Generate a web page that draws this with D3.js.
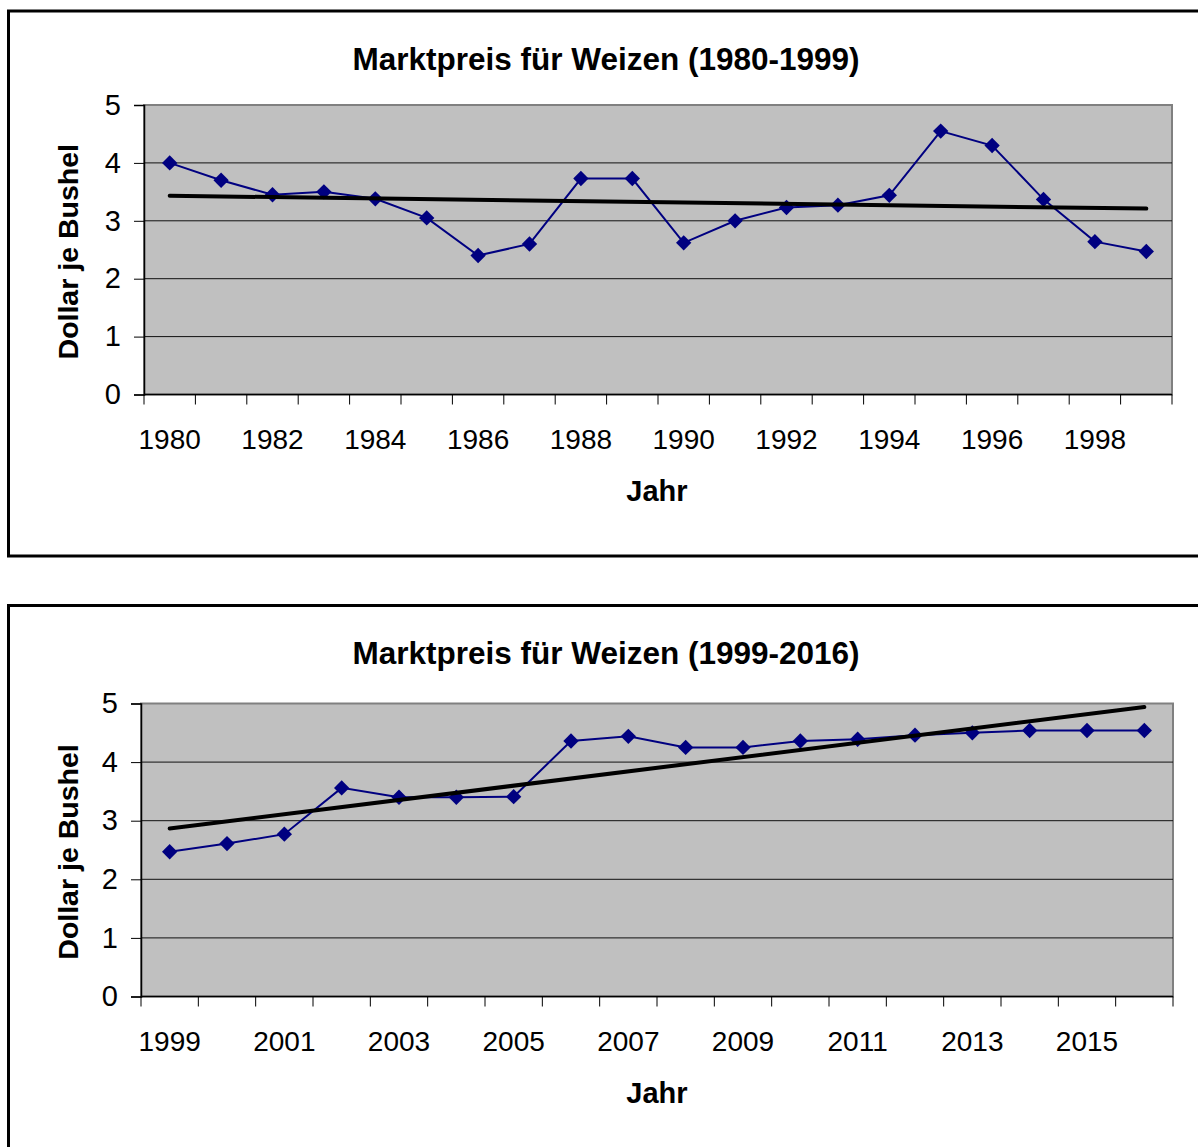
<!DOCTYPE html>
<html>
<head>
<meta charset="utf-8">
<script src="https://cdn.jsdelivr.net/npm/d3@7"></script>
<style>
  body { margin: 0; background: #fff; }
  svg { display: block; font-family: "Liberation Sans", Arial, sans-serif; }
</style>
</head>
<body>
<div class="chart"></div>
<script>
// data
var years1 = ["1980","1981","1982","1983","1984","1985","1986","1987","1988","1989",
              "1990","1991","1992","1993","1994","1995","1996","1997","1998","1999"];
var prices1 = [4.0, 3.7, 3.45, 3.5, 3.38, 3.05, 2.4, 2.6, 3.73, 3.73,
               2.62, 3.0, 3.23, 3.27, 3.44, 4.55, 4.30, 3.37, 2.64, 2.47];

var years2 = ["1999","2000","2001","2002","2003","2004","2005","2006","2007",
              "2008","2009","2010","2011","2012","2013","2014","2015","2016"];
var prices2 = [2.47, 2.61, 2.77, 3.56, 3.40, 3.40, 3.41, 4.36, 4.44,
               4.25, 4.25, 4.36, 4.39, 4.46, 4.50, 4.54, 4.54, 4.54];

var yTicks = [0, 1, 2, 3, 4, 5];

var svg = d3.select(".chart").append("svg")
    .attr("width", 1198)
    .attr("height", 1147);

// linear trend (least squares), as the spreadsheet draws it
function trend(values) {
    var n = values.length;
    var mx = (n - 1) / 2;
    var my = d3.mean(values);
    var sxy = 0, sxx = 0;
    values.forEach(function (v, i) {
        sxy += (i - mx) * (v - my);
        sxx += (i - mx) * (i - mx);
    });
    var b = sxy / sxx;
    return [my - b * mx, my + b * (n - 1 - mx)];
}

function drawChart(cfg) {
    var g = svg.append("g");

    // frame round the chart
    g.append("rect")
        .attr("x", 8.5).attr("y", cfg.top)
        .attr("width", 1300).attr("height", cfg.boxH)
        .attr("fill", "none").attr("stroke", "#000").attr("stroke-width", 3);

    var x = d3.scaleBand()
        .domain(cfg.years)
        .range([cfg.left, cfg.right]);

    var y = d3.scaleLinear()
        .domain([0, 5])
        .range([cfg.bottom, cfg.plotTop]);

    // plot area
    g.append("rect")
        .attr("x", cfg.left).attr("y", cfg.plotTop)
        .attr("width", cfg.right - cfg.left).attr("height", cfg.bottom - cfg.plotTop)
        .attr("fill", "#c0c0c0").attr("stroke", "#808080").attr("stroke-width", 2);

    // gridlines
    g.selectAll(".grid").data(yTicks.slice(1, 5)).enter()
        .append("line")
        .attr("x1", cfg.left).attr("x2", cfg.right)
        .attr("y1", d => y(d)).attr("y2", d => y(d))
        .attr("stroke", "#111").attr("stroke-width", 1);

    // y axis
    var yAxis = g.append("g")
        .attr("transform", `translate(${cfg.left},0)`)
        .call(d3.axisLeft(y).tickValues(yTicks).tickFormat(d3.format("d"))
            .tickSize(10).tickPadding(13));
    yAxis.select(".domain").attr("stroke", "#000").attr("stroke-width", 1.5);
    yAxis.selectAll(".tick line").attr("stroke", "#000");
    yAxis.selectAll("text").attr("font-size", 29).attr("fill", "#000");

    // x axis: ticks between categories, labels on every other year
    var xAxis = g.append("g")
        .attr("transform", `translate(0,${cfg.bottom})`);
    xAxis.append("line")
        .attr("x1", cfg.left).attr("x2", cfg.right)
        .attr("stroke", "#000").attr("stroke-width", 1.5);
    var bounds = d3.range(cfg.years.length + 1).map(i => cfg.left + i * x.bandwidth());
    xAxis.selectAll(".xt").data(bounds).enter()
        .append("line")
        .attr("x1", d => d).attr("x2", d => d)
        .attr("y1", 0).attr("y2", 10)
        .attr("stroke", "#000").attr("stroke-width", 1);
    xAxis.selectAll(".xl").data(cfg.years.filter((d, i) => i % 2 === 0)).enter()
        .append("text")
        .attr("x", d => x(d) + x.bandwidth() / 2)
        .attr("y", 54)
        .attr("text-anchor", "middle")
        .attr("font-size", 28)
        .text(d => d);

    // series line and diamond markers
    var pts = cfg.years.map((d, i) => [x(d) + x.bandwidth() / 2, y(cfg.prices[i])]);
    g.append("path")
        .attr("d", d3.line()(pts))
        .attr("fill", "none").attr("stroke", "#000080").attr("stroke-width", 2);

    g.selectAll(".pt").data(pts).enter()
        .append("path")
        .attr("transform", d => `translate(${d[0]},${d[1]})`)
        .attr("d", d3.symbol().type(d3.symbolDiamond2).size(150))
        .attr("fill", "#000080");

    // trendline
    var t = trend(cfg.prices);
    var first = cfg.years[0], last = cfg.years[cfg.years.length - 1];
    g.append("line")
        .attr("x1", x(first) + x.bandwidth() / 2).attr("y1", y(t[0]))
        .attr("x2", x(last) + x.bandwidth() / 2).attr("y2", y(t[1]))
        .attr("stroke", "#000").attr("stroke-width", 4).attr("stroke-linecap", "round");

    // titles
    g.append("text")
        .attr("x", 606).attr("y", cfg.titleY)
        .attr("text-anchor", "middle")
        .attr("font-size", 31.5).attr("font-weight", "bold")
        .text(cfg.title);

    g.append("text")
        .attr("x", 657).attr("y", cfg.bottom + 106)
        .attr("text-anchor", "middle")
        .attr("font-size", 29).attr("font-weight", "bold")
        .text("Jahr");

    g.append("text")
        .attr("transform", `translate(78,${(cfg.plotTop + cfg.bottom) / 2 + 2})rotate(-90)`)
        .attr("text-anchor", "middle")
        .attr("font-size", 28.5).attr("font-weight", "bold")
        .text("Dollar je Bushel");
}

drawChart({
    years: years1, prices: prices1,
    title: "Marktpreis für Weizen (1980-1999)",
    top: 11, boxH: 545, titleY: 70,
    left: 144, right: 1172, plotTop: 105, bottom: 394.5
});

drawChart({
    years: years2, prices: prices2,
    title: "Marktpreis für Weizen (1999-2016)",
    top: 605.5, boxH: 700, titleY: 664,
    left: 141, right: 1173, plotTop: 703.5, bottom: 996.5
});
</script>
</body>
</html>
